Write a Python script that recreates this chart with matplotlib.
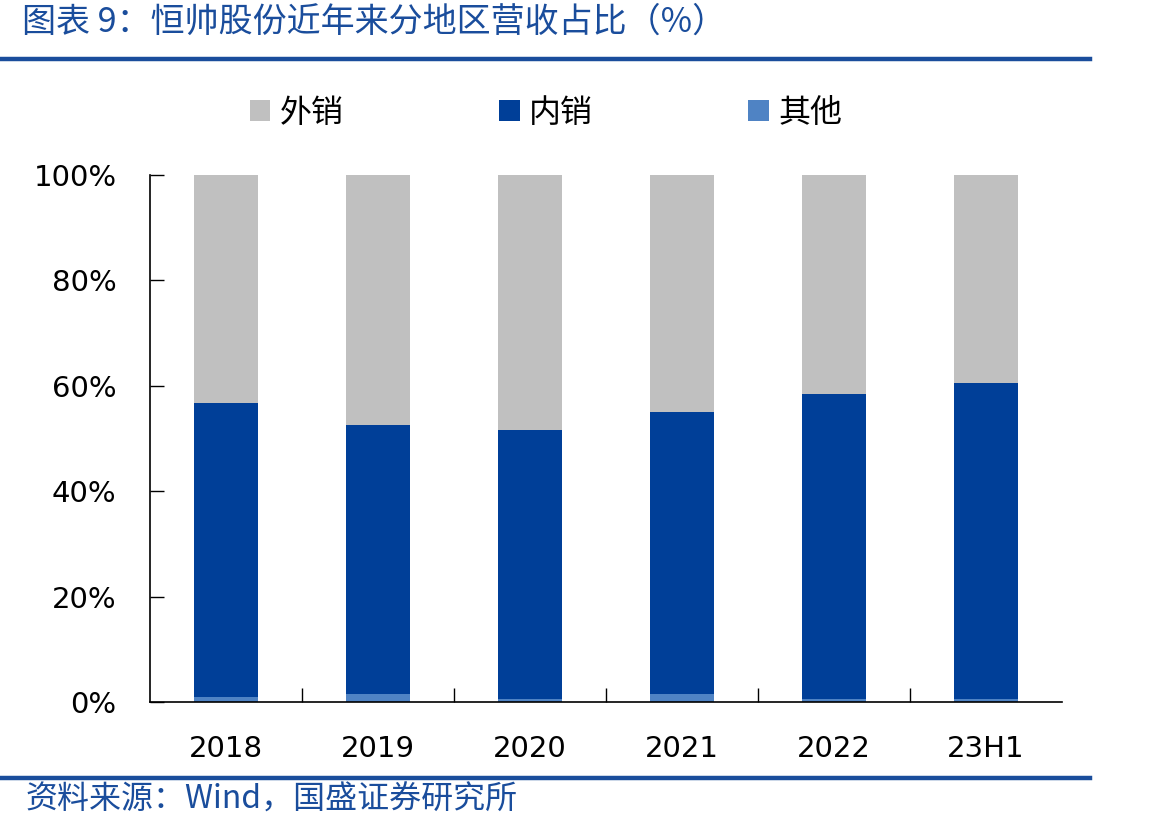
import matplotlib
matplotlib.use("Agg")
import matplotlib.pyplot as plt
import numpy as np
from matplotlib.lines import Line2D
from matplotlib.ticker import FuncFormatter

categories = ["2018", "2019", "2020", "2021", "2022", "23H1"]
other = [1.0, 1.6, 0.6, 1.6, 0.6, 0.6]
domestic = [55.7, 51.0, 51.0, 53.4, 57.8, 59.9]
export = [100 - o - d for o, d in zip(other, domestic)]

c_export = "#C0C0C0"
c_dom = "#003F98"
c_other = "#4F83C4"
c_title = "#1A4D9C"

cjk = ["Noto Sans CJK SC", "DejaVu Sans"]

fig = plt.figure(figsize=(11.70, 8.31), dpi=100)
W, H = 1170, 831
ax = fig.add_axes([150 / W, 1 - 702 / H, (1062 - 150) / W, (702 - 175) / H])

x = np.arange(len(categories))
bw = 0.42
ax.bar(x, other, bw, color=c_other, label="其他", zorder=2)
ax.bar(x, domestic, bw, bottom=other, color=c_dom, label="内销", zorder=2)
ax.bar(x, export, bw, bottom=np.array(other) + np.array(domestic), color=c_export, label="外销", zorder=2)

ax.set_xlim(-0.5, len(categories) - 0.5)
ax.set_ylim(0, 100)
ax.set_yticks([0, 20, 40, 60, 80, 100])
ax.yaxis.set_major_formatter(FuncFormatter(lambda v, p: f"{int(v)}%"))
ax.tick_params(axis="y", direction="in", length=10, width=1, labelsize=21, pad=24)
ax.set_xticks(x)
ax.set_xticklabels(categories)
ax.tick_params(axis="x", length=0, labelsize=21, pad=24)
ax.set_xticks(np.arange(len(categories) - 1) + 0.5, minor=True)
ax.tick_params(axis="x", which="minor", direction="in", length=10, width=1)
for s in ["top", "right"]:
    ax.spines[s].set_visible(False)
for s in ["left", "bottom"]:
    ax.spines[s].set_linewidth(1.2)

handles, labels = ax.get_legend_handles_labels()
order = [2, 1, 0]
leg = ax.legend([handles[i] for i in order], [labels[i] for i in order],
                loc="center", ncol=3, frameon=False, handlelength=0.65, handleheight=0.65,
                handletextpad=0.3, columnspacing=4.85,
                prop={"family": cjk, "size": 23})
leg.set_bbox_to_anchor((0.5 - 0.5 * (1062 + 150 - 2 * 546) / (1062 - 150), (702 - 113) / (702 - 175)),
                       transform=ax.transAxes)

# title and lines
fig.text(22 / W, 1 - 22 / H, "图表 9：恒帅股份近年来分地区营收占比（%）", color=c_title,
         fontsize=24.5, family=cjk, style="italic", va="center", ha="left")
fig.add_artist(Line2D([0, 1090 / W], [1 - 58.5 / H] * 2, color=c_title, lw=3.2, transform=fig.transFigure))
fig.add_artist(Line2D([0, 1090 / W], [1 - 777.5 / H] * 2, color=c_title, lw=3.2, transform=fig.transFigure))
fig.text(25 / W, 1 - 800 / H, "资料来源：Wind，国盛证券研究所", color=c_title,
         fontsize=23, family=cjk, style="italic", va="center", ha="left")

fig.savefig("out.png", dpi=100)
